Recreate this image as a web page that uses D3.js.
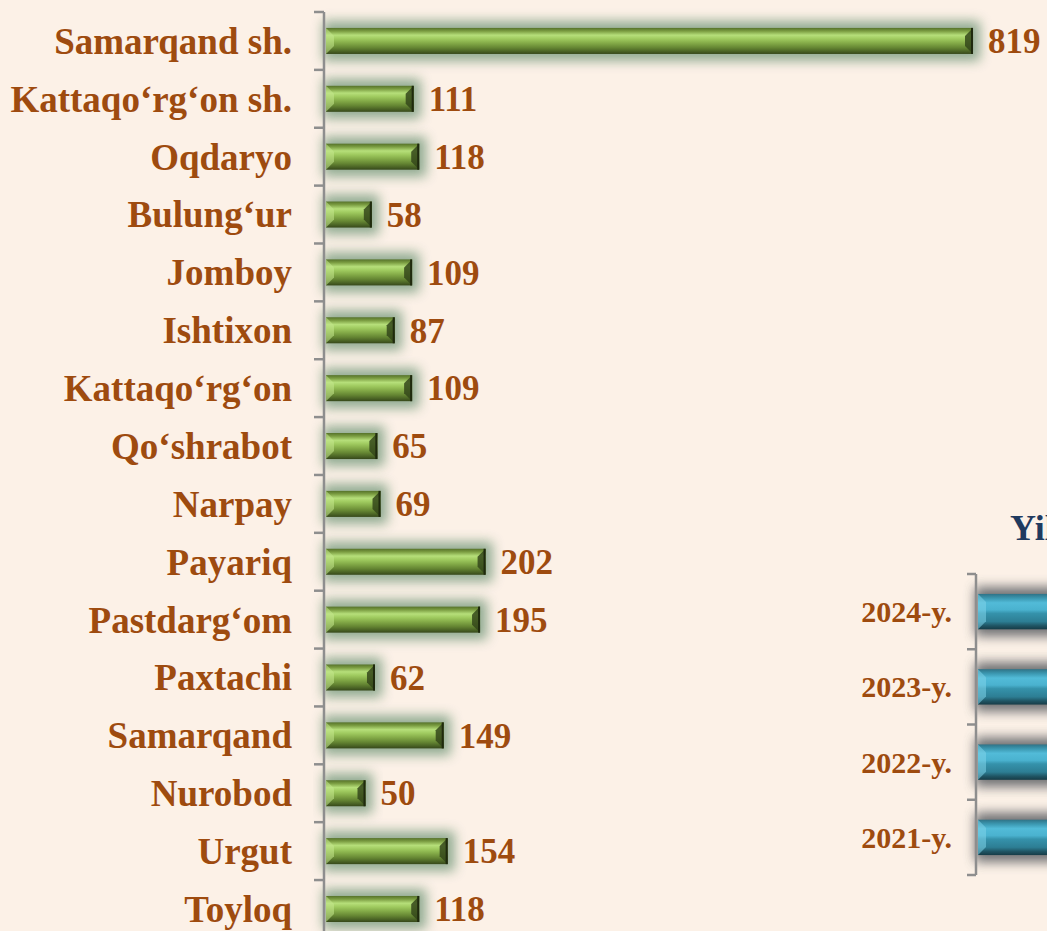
<!DOCTYPE html>
<html>
<head>
<meta charset="utf-8">
<script src="https://cdn.jsdelivr.net/npm/d3@7"></script>
<style>
  html, body { margin: 0; padding: 0; background: #fcf1e7; overflow: hidden; }
  svg { display: block; }
</style>
</head>
<body>
<script>
// size variables
var width = 1047, height = 931;

// districts and values (left chart)
var districts = ["Samarqand sh.", "Kattaqo‘rg‘on sh.", "Oqdaryo", "Bulung‘ur", "Jomboy", "Ishtixon",
  "Kattaqo‘rg‘on", "Qo‘shrabot", "Narpay", "Payariq", "Pastdarg‘om", "Paxtachi",
  "Samarqand", "Nurobod", "Urgut", "Toyloq"];
var districtValues = [819, 111, 118, 58, 109, 87, 109, 65, 69, 202, 195, 62, 149, 50, 154, 118];

// years (right chart, cut off at the edge)
var years = ["2024-y.", "2023-y.", "2022-y.", "2021-y."];
var yearValues = [2400, 2300, 2200, 2100];
var rightTitle = "Yillar kesimida";

var brown = "#9e4b0f";
var font = "'Liberation Serif', 'Times New Roman', serif";

var svg = d3.select('body').append('svg').attr('width', width).attr('height', height);
svg.append('rect').attr('width', width).attr('height', height).attr('fill', '#fcf1e7');

var defs = svg.append('defs');

// green bar gradient
var gg = defs.append('linearGradient').attr('id', 'gGreen').attr('x1', 0).attr('y1', 0).attr('x2', 0).attr('y2', 1);
[[0, '#56722a'], [0.12, '#7a9c41'], [0.28, '#b6df7a'], [0.42, '#9fca5f'], [0.58, '#84ab48'],
 [0.76, '#658633'], [0.9, '#4a6325'], [1, '#36481a']].forEach(function(s) {
  gg.append('stop').attr('offset', s[0]).attr('stop-color', s[1]);
});
// blue bar gradient
var bg = defs.append('linearGradient').attr('id', 'gBlue').attr('x1', 0).attr('y1', 0).attr('x2', 0).attr('y2', 1);
[[0, '#2f7387'], [0.12, '#3b97b0'], [0.25, '#52bbd8'], [0.45, '#4ab2cf'], [0.55, '#3592ab'],
 [0.78, '#2d7e94'], [0.9, '#1f5463'], [1, '#163c47']].forEach(function(s) {
  bg.append('stop').attr('offset', s[0]).attr('stop-color', s[1]);
});

defs.append('filter').attr('id', 'glow').attr('x', '-20%').attr('y', '-100%').attr('width', '140%').attr('height', '300%')
  .append('feGaussianBlur').attr('stdDeviation', 6);

// bevel bar drawing helper
function bevelBars(g, data, x, y, fillId, glowColor, leftColor, rightColor) {
  var b = 8;
  var bars = g.selectAll('g.bar').data(data).join('g').attr('class', 'bar');
  bars.append('rect')
    .attr('x', d => x(0) - 3)
    .attr('y', d => y(d.name) - 7)
    .attr('width', d => x(d.value) - x(0) + 10)
    .attr('height', y.bandwidth() + 14)
    .attr('fill', glowColor)
    .attr('opacity', 0.9)
    .attr('filter', 'url(#glow)');
  bars.append('rect')
    .attr('x', x(0))
    .attr('y', d => y(d.name))
    .attr('width', d => x(d.value) - x(0))
    .attr('height', y.bandwidth())
    .attr('fill', 'url(#' + fillId + ')');
  // left chevron
  bars.append('path')
    .attr('d', function(d) {
      var x0 = x(0), y0 = y(d.name), y1 = y0 + y.bandwidth();
      return 'M' + x0 + ',' + y0 + 'L' + (x0 + b) + ',' + (y0 + b) + 'L' + (x0 + b) + ',' + (y1 - b) + 'L' + x0 + ',' + y1 + 'Z';
    })
    .attr('fill', leftColor).attr('opacity', 0.55);
  // right bevel
  bars.append('path')
    .attr('d', function(d) {
      var x1 = x(d.value), y0 = y(d.name), y1 = y0 + y.bandwidth();
      return 'M' + x1 + ',' + y0 + 'L' + x1 + ',' + y1 + 'L' + (x1 - b) + ',' + (y1 - b) + 'L' + (x1 - b) + ',' + (y0 + b) + 'Z';
    })
    .attr('fill', rightColor).attr('opacity', 0.85);
  bars.append('rect')
    .attr('x', d => x(d.value) - 2)
    .attr('y', d => y(d.name))
    .attr('width', 2)
    .attr('height', y.bandwidth())
    .attr('fill', '#1f2a0e');
  return bars;
}

// ---------- left chart ----------
var leftData = districts.map((d, i) => ({ name: d, value: districtValues[i] }));
var x1 = d3.scaleLinear().domain([0, 900]).range([326, 326 + 0.79 * 900]);
var y1 = d3.scaleBand().domain(districts).range([12, 12 + 16 * 57.87]).paddingInner(0.55).paddingOuter(0.275);
var yTicks = d3.scaleBand().domain(districts).range([12, 12 + 16 * 57.87]);

var left = svg.append('g');
bevelBars(left, leftData, x1, y1, 'gGreen', '#86a489', '#c5e88e', '#34461a');

// axis line + ticks
left.append('line').attr('x1', 324).attr('x2', 324).attr('y1', 12).attr('y2', height + 10)
  .attr('stroke', '#8e8e8e').attr('stroke-width', 2.5);
left.selectAll('line.tick').data(districts.concat(['end'])).join('line').attr('class', 'tick')
  .attr('x1', 314).attr('x2', 324)
  .attr('y1', (d, i) => 12 + i * yTicks.step())
  .attr('y2', (d, i) => 12 + i * yTicks.step())
  .attr('stroke', '#8e8e8e').attr('stroke-width', 2.5);

left.selectAll('text.cat').data(leftData).join('text').attr('class', 'cat')
  .attr('x', 292)
  .attr('y', d => y1(d.name) + y1.bandwidth() / 2)
  .attr('dy', '0.35em')
  .attr('text-anchor', 'end')
  .attr('font-family', font).attr('font-weight', 'bold').attr('font-size', 37)
  .attr('fill', brown)
  .text(d => d.name);

left.selectAll('text.val').data(leftData).join('text').attr('class', 'val')
  .attr('x', d => x1(d.value) + 15)
  .attr('y', d => y1(d.name) + y1.bandwidth() / 2)
  .attr('dy', '0.35em')
  .attr('font-family', font).attr('font-weight', 'bold').attr('font-size', 35)
  .attr('fill', brown)
  .text(d => d.value);

// ---------- right chart ----------
var rightData = years.map((d, i) => ({ name: d, value: yearValues[i] }));
var x2 = d3.scaleLinear().domain([0, 2500]).range([978, 1300]);
var y2 = d3.scaleBand().domain(years).range([574, 875]).paddingInner(0.53).paddingOuter(0.265);

var right = svg.append('g');
right.append('text')
  .attr('x', 1010).attr('y', 540)
  .attr('font-family', font).attr('font-weight', 'bold').attr('font-size', 36)
  .attr('fill', '#1f3a5f')
  .text(rightTitle);

bevelBars(right, rightData, x2, y2, 'gBlue', '#5e6266', '#7fd4ea', '#123038');

right.append('line').attr('x1', 976).attr('x2', 976).attr('y1', 574).attr('y2', 875)
  .attr('stroke', '#8e8e8e').attr('stroke-width', 2.5);
right.selectAll('line.tick').data(years.concat(['end'])).join('line').attr('class', 'tick')
  .attr('x1', 967).attr('x2', 976)
  .attr('y1', (d, i) => 574 + i * (301 / 4))
  .attr('y2', (d, i) => 574 + i * (301 / 4))
  .attr('stroke', '#8e8e8e').attr('stroke-width', 2.5);

right.selectAll('text.cat').data(rightData).join('text').attr('class', 'cat')
  .attr('x', 952)
  .attr('y', d => y2(d.name) + y2.bandwidth() / 2)
  .attr('dy', '0.35em')
  .attr('text-anchor', 'end')
  .attr('font-family', font).attr('font-weight', 'bold').attr('font-size', 30)
  .attr('fill', brown)
  .text(d => d.name);
</script>
</body>
</html>
